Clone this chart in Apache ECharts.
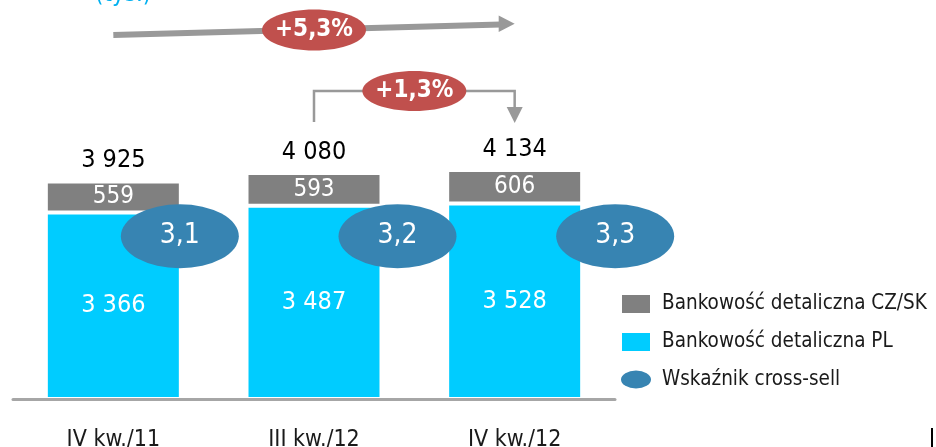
<!DOCTYPE html>
<html>
<head>
<meta charset="utf-8">
<script src="https://cdn.jsdelivr.net/npm/echarts@6/dist/echarts.min.js"></script>
<style>
html,body{margin:0;padding:0;background:#fff;}
#chart{width:936px;height:447px;}
</style>
</head>
<body>
<div id="chart"></div>
<script>
// ---- data ----
const categories = ['IV kw./11', 'III kw./12', 'IV kw./12'];
const retailPL = [3366, 3487, 3528];
const retailCZSK = [559, 593, 606];
const totals = [3925, 4080, 4134];
const crossSell = [3.1, 3.2, 3.3];
const growthLabels = ['+5,3%', '+1,3%'];
const seriesNames = ['Bankowość detaliczna CZ/SK', 'Bankowość detaliczna PL', 'Wskaźnik cross-sell'];
const unitLabel = '(tys.)';

// ---- style / layout constants ----
const FONT = '"DejaVu Sans Condensed", "DejaVu Sans", sans-serif';
const ELLIPSE_PATH = 'path://M50,0A50,30,0,1,1,50,60A50,30,0,1,1,50,0Z';
const ELLIPSE_Y = 0.408;
const fmt = n => String(n).replace(/\B(?=(\d{3})+(?!\d))/g, ' ');
const fmtDec = v => v.toFixed(1).replace('.', ',');

const chart = echarts.init(document.getElementById('chart'), null, {renderer: 'canvas'});

const option = {
  animation: false,
  backgroundColor: '#fff',
  textStyle: {fontFamily: FONT},
  grid: [
    {left: 13, right: 321, top: 0, bottom: 48, containLabel: false, outerBoundsMode: 'none'},
    {left: 71, right: 212, top: 0, bottom: 48, containLabel: false, outerBoundsMode: 'none'}
  ],
  legend: {
    orient: 'vertical',
    left: 615,
    top: 288,
    itemWidth: 30,
    itemHeight: 20,
    itemGap: 16,
    textStyle: {fontSize: 20.5, color: '#1a1a1a', fontFamily: FONT, padding: [0, 0, 0, 6]},
    data: [
      {name: seriesNames[0], icon: 'rect'},
      {name: seriesNames[1], icon: 'rect'},
      {name: seriesNames[2], icon: ELLIPSE_PATH}
    ]
  },
  xAxis: [
    {
      type: 'category', gridIndex: 0, data: categories, z: 4,
      axisLine: {lineStyle: {color: '#A6A6A6', width: 3}},
      axisTick: {show: false},
      axisLabel: {color: '#1a1a1a', fontSize: 23, margin: 30, fontFamily: FONT}
    },
    {type: 'category', gridIndex: 1, data: categories, show: false}
  ],
  yAxis: [
    {type: 'value', gridIndex: 0, min: 0, max: 7200, show: false, splitLine: {show: false}},
    {type: 'value', gridIndex: 1, min: 0, max: 1, show: false, splitLine: {show: false}}
  ],
  series: [
    {
      name: seriesNames[1], type: 'bar', stack: 'a', barWidth: 135,
      data: retailPL,
      itemStyle: {color: '#00CCFF', borderColor: '#fff', borderWidth: 2},
      label: {show: true, position: 'inside', color: '#fff', fontSize: 25, fontFamily: FONT, formatter: p => fmt(p.value)}
    },
    {
      name: seriesNames[0], type: 'bar', stack: 'a', barWidth: 135,
      data: retailCZSK,
      itemStyle: {color: '#808080', borderColor: '#fff', borderWidth: 2},
      label: {show: true, position: 'inside', color: '#fff', fontSize: 24, fontFamily: FONT, formatter: p => fmt(p.value)}
    },
    {
      name: 'total', type: 'bar', stack: 'a', barWidth: 135,
      data: totals.map(() => 0),
      itemStyle: {color: 'transparent'},
      label: {show: true, position: 'top', distance: 8, color: '#000', fontSize: 25, fontFamily: FONT,
        formatter: p => fmt(totals[p.dataIndex])}
    },
    {
      name: seriesNames[2], type: 'scatter', xAxisIndex: 1, yAxisIndex: 1,
      data: crossSell.map((v, i) => [i, ELLIPSE_Y]),
      symbol: ELLIPSE_PATH, symbolSize: [118, 64],
      itemStyle: {color: '#3784B2', opacity: 1},
      label: {show: true, position: 'inside', color: '#fff', fontSize: 28, fontFamily: FONT,
        formatter: p => fmtDec(crossSell[p.dataIndex])},
      z: 5
    }
  ]
};
chart.setOption(option);

const cx = categories.map(c => chart.convertToPixel({xAxisIndex: 0}, c));
const c0 = cx[0], c1 = cx[1], c2 = cx[2];
const GRAY = '#999999', RED = '#C0504D';

chart.setOption({
  graphic: [
    {type: 'text', left: 95, top: -17, style: {text: unitLabel, fill: '#00B0F0', font: '24px ' + FONT}},
    {type: 'polyline', shape: {points: [[c0, 35], [c2 - 14, 24.6]]}, style: {stroke: GRAY, lineWidth: 6, fill: null}, z: 10},
    {type: 'polygon', shape: {points: [[c2 - 16, 15.5], [c2, 23.8], [c2 - 16, 32]]}, style: {fill: GRAY}, z: 10},
    {type: 'polyline', shape: {points: [[c1, 122], [c1, 91], [c2, 91], [c2, 109]]}, style: {stroke: GRAY, lineWidth: 2.5, fill: null}, z: 10},
    {type: 'polygon', shape: {points: [[c2 - 8, 107], [c2 + 8, 107], [c2, 123]]}, style: {fill: GRAY}, z: 10},
    {type: 'ellipse', shape: {cx: c1, cy: 30, rx: 52, ry: 20.5}, style: {fill: RED}, z: 11},
    {type: 'text', x: c1, y: 30, style: {text: growthLabels[0], fill: '#fff', font: 'bold 24px ' + FONT, align: 'center', verticalAlign: 'middle'}, z: 12},
    {type: 'ellipse', shape: {cx: (c1 + c2) / 2, cy: 91, rx: 52, ry: 20}, style: {fill: RED}, z: 11},
    {type: 'text', x: (c1 + c2) / 2, y: 91, style: {text: growthLabels[1], fill: '#fff', font: 'bold 24px ' + FONT, align: 'center', verticalAlign: 'middle'}, z: 12},
    {type: 'rect', shape: {x: 931, y: 428, width: 2, height: 19}, style: {fill: '#000'}}
  ]
});
</script>
</body>
</html>
